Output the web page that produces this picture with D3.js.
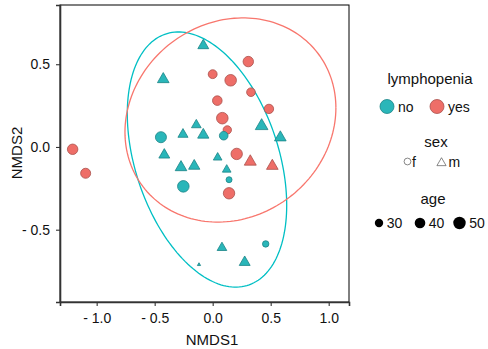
<!DOCTYPE html>
<html><head><meta charset="utf-8">
<script src="https://cdn.jsdelivr.net/npm/d3@7"></script>
<style>body{margin:0;background:#fff}svg{display:block}text{font-family:"Liberation Sans",Arial,sans-serif}</style>
</head><body><svg id="c" width="488" height="349"></svg>
<script>
// ---- data ----
const nmds1 = [-0.081,0.307,0.000,0.155,-0.426,0.330,0.040,0.485,0.083,-0.141,0.422,0.126,-0.446,-0.256,-0.081,0.095,0.583,-0.417,0.043,0.207,0.324,0.514,-0.273,-0.159,0.121,0.141,-0.253,0.141,-1.207,-1.095,0.080,0.457,-0.118,0.276];
const nmds2 = [0.613,0.516,0.440,0.403,0.409,0.331,0.280,0.230,0.174,0.133,0.127,0.103,0.059,0.076,0.073,0.068,0.057,-0.048,-0.064,-0.042,-0.089,-0.115,-0.123,-0.115,-0.137,-0.198,-0.238,-0.280,-0.014,-0.159,-0.609,-0.586,-0.711,-0.697];
const lymphopenia = ["no","yes","yes","yes","no","yes","yes","yes","yes","no","no","yes","no","no","no","no","no","no","no","yes","yes","yes","no","no","no","no","no","yes","yes","yes","no","no","no","no"];
const sex = ["m","f","f","f","m","f","f","f","f","m","m","f","f","m","m","f","m","m","m","f","m","m","m","m","m","f","f","f","f","f","m","f","m","m"];
const age = [29,39,32,45,31,31,35,34,45,26,34,30,42,27,30,31,31,29,24,44,32,31,31,30,24,23,45,44,39,37,26,24,19,29];
const lymphLevels = ["no","yes"];
const sexLevels = ["f","m"];
const ageBreaks = [30,40,50];
const xTicks = [-1.0,-0.5,0.0,0.5,1.0];
const yTicks = [-0.5,0.0,0.5];
// ellipse (stat_ellipse) parameters, per lymphopenia level
const ellCX = [-0.049, 0.153];
const ellCY = [-0.076, 0.163];
const ellSX = [0.687, 0.909];
const ellSY = [0.771, 0.617];
const ellCov = [-0.190, 0.0666];

// ---- scales ----
const fillC = d3.scaleOrdinal().domain(lymphLevels).range(["#2AB6B9","#EE6E68"]);
const strokeC = d3.scaleOrdinal().domain(lymphLevels).range(["#1B8487","#A9504B"]);
const lineC = d3.scaleOrdinal().domain(lymphLevels).range(["#00BFC4","#F8766D"]);
const ageMin = 19, ageMax = 55;
const rad = d3.scaleSqrt().domain([0, ageMax-ageMin]).range([1.2, 6.6]);
const r = a => rad(Math.max(0,a-ageMin));

const x = d3.scaleLinear().domain([-1.316,1.175]).range([60,349]);
const y = d3.scaleLinear().domain([-0.937,0.858]).range([302,5]);
const svg = d3.select("#c");

const fmt = v => v < 0 ? "- " + d3.format(".1f")(-v) : d3.format(".1f")(v);

// ellipses
const plot = svg.append("g");
lymphLevels.forEach((lv,i)=>{
  const a = ellSX[i], c = ellCov[i]/a, d = Math.sqrt(ellSY[i]*ellSY[i]-c*c);
  const pts = d3.range(0,361,2).map(t=>{const th=t*Math.PI/180;return [ellCX[i]+a*Math.cos(th), ellCY[i]+c*Math.cos(th)+d*Math.sin(th)];});
  plot.append("path").attr("d", d3.line().x(p=>x(p[0])).y(p=>y(p[1]))(pts))
    .attr("fill","none").attr("stroke",lineC(lv)).attr("stroke-width",1.3);
});

// points
const sym = (s,rr) => s==="f" ? d3.symbol(d3.symbolCircle, Math.PI*rr*rr)() : d3.symbol(d3.symbolTriangle, Math.PI*rr*rr)();
nmds1.forEach((v,i)=>{
  plot.append("path").attr("d", sym(sex[i], r(age[i])))
    .attr("transform",`translate(${x(v)},${y(nmds2[i])})`)
    .attr("fill",fillC(lymphopenia[i])).attr("stroke",strokeC(lymphopenia[i])).attr("stroke-width",0.8);
});

// panel border
svg.append("rect").attr("x",60).attr("y",5).attr("width",289).attr("height",297)
  .attr("fill","none").attr("stroke","#000").attr("stroke-width",1);

// axes
const xa = svg.append("g").attr("transform","translate(0,302)")
  .call(d3.axisBottom(x).tickValues(xTicks).tickFormat(fmt).tickSize(4).tickPadding(7));
const ya = svg.append("g").attr("transform","translate(60,0)")
  .call(d3.axisLeft(y).tickValues(yTicks).tickFormat(fmt).tickSize(4).tickPadding(6));
[xa,ya].forEach(g=>{
  g.select(".domain").attr("stroke","#333").attr("stroke-width",1.6);
  g.selectAll(".tick line").attr("stroke","#333").attr("stroke-width",1.1);
  g.selectAll(".tick text").attr("fill","#111").style("font-size","14px");
});

svg.append("text").attr("x",212).attr("y",345).attr("text-anchor","middle")
  .style("font-size","15px").attr("fill","#111").text("NMDS1");
svg.append("text").attr("transform","translate(22,153) rotate(-90)").attr("text-anchor","middle")
  .style("font-size","15px").attr("fill","#111").text("NMDS2");

// legends
const lg = svg.append("g");
lg.append("text").attr("x",430).attr("y",84).attr("text-anchor","middle").style("font-size","15px").attr("fill","#111").text("lymphopenia");
const lymX = [387, 437];
lymphLevels.forEach((lv,i)=>{
  lg.append("circle").attr("cx",lymX[i]).attr("cy",106.5).attr("r",7)
    .attr("fill",fillC(lv)).attr("stroke",strokeC(lv)).attr("stroke-width",0.8);
  lg.append("text").attr("x",lymX[i]+11).attr("y",111.5).style("font-size","14px").attr("fill","#111").text(lv);
});
lg.append("text").attr("x",436).attr("y",147).attr("text-anchor","middle").style("font-size","15px").attr("fill","#111").text("sex");
const sexX = [407.5, 441.5];
sexLevels.forEach((lv,i)=>{
  lg.append("path").attr("d", sym(lv, 3.4)).attr("transform",`translate(${sexX[i]},${lv==="f"?161.5:163})`)
    .attr("fill","none").attr("stroke","#555").attr("stroke-width",0.7);
  lg.append("text").attr("x",sexX[i]+(lv==="f"?4.5:7)).attr("y",167).style("font-size","14px").attr("fill","#111").text(lv);
});
lg.append("text").attr("x",433).attr("y",204).attr("text-anchor","middle").style("font-size","15px").attr("fill","#111").text("age");
const ageX = [379, 420, 459.5];
ageBreaks.forEach((a,i)=>{
  lg.append("circle").attr("cx",ageX[i]).attr("cy",223).attr("r",r(a)).attr("fill","#000");
  lg.append("text").attr("x",ageX[i]+r(a)+3.5).attr("y",228).style("font-size","14px").attr("fill","#111").text(a);
});
</script></body></html>
